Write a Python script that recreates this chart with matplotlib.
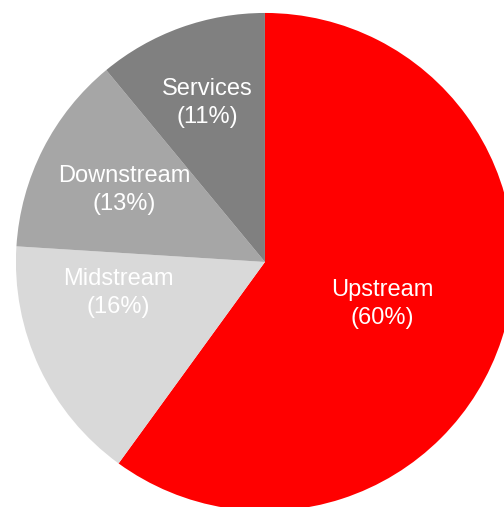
import matplotlib.pyplot as plt

segments = ['Upstream', 'Midstream', 'Downstream', 'Services']
shares = [60, 16, 13, 11]
colors = ['#FF0000', '#D9D9D9', '#A6A6A6', '#808080']
# label centres in data units (pie radius = 1)
label_xy = [(0.47, -0.169), (-0.590, -0.124), (-0.566, 0.289), (-0.233, 0.639)]

plt.rcParams['font.family'] = ['Liberation Sans', 'DejaVu Sans']

fig = plt.figure(figsize=(5.04, 5.07), dpi=100)
ax = fig.add_axes([0, 0, 1, 1])
wedges, _ = ax.pie(shares, colors=colors, startangle=90, counterclock=False,
                   radius=1, wedgeprops=dict(linewidth=0))

for name, val, (x, y) in zip(segments, shares, label_xy):
    ax.text(x, y, f'{name}\n({val}%)', color='white', fontsize=17,
            ha='center', va='center', linespacing=1.35)

ax.set_xlim(-1.064, 0.960)
ax.set_ylim(-0.984, 1.052)
ax.set_aspect('equal')
ax.axis('off')

fig.savefig('out.png', dpi=100)
